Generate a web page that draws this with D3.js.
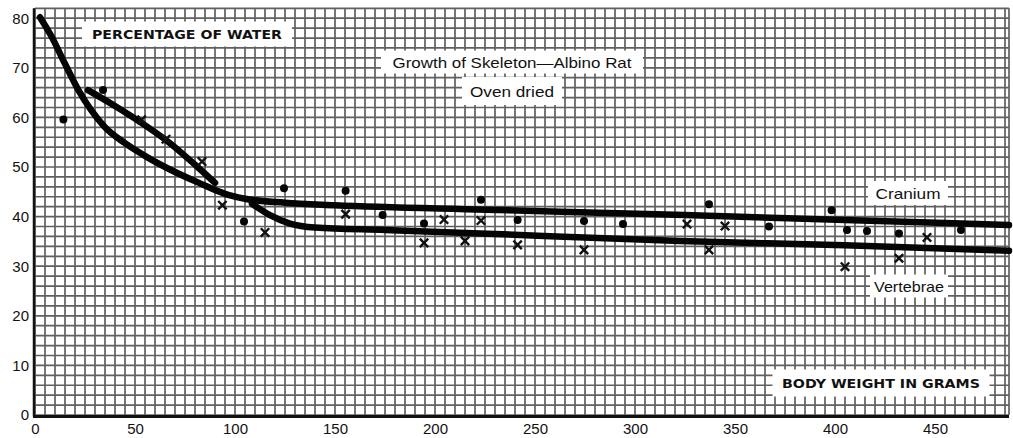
<!DOCTYPE html>
<html>
<head>
<meta charset="utf-8">
<script src="https://cdn.jsdelivr.net/npm/d3@7"></script>
<style>
  html, body { margin: 0; padding: 0; background: #ffffff; }
  svg { display: block; }
</style>
</head>
<body>
<svg id="chart" width="1013" height="438"></svg>
<script>
// ---- Data ----
const xTicks = [0, 50, 100, 150, 200, 250, 300, 350, 400, 450];
const yTicks = [0, 10, 20, 30, 40, 50, 60, 70, 80];

// Cranium fitted curve
const craniumCurveG = [2.5, 8, 15, 22, 28, 35, 45, 56, 68, 82, 95, 105, 125, 150, 225, 325, 405, 487];
const craniumCurveV = [80.2, 76.5, 70.8, 65.3, 61.5, 58.0, 54.8, 52.0, 49.4, 46.8, 44.6, 43.6, 42.8, 42.3, 41.4, 40.3, 39.3, 38.3];

// Vertebrae fitted curve: early segment and later segment
const vertEarlyG = [26.5, 40, 52.5, 67.5, 81, 90];
const vertEarlyV = [65.5, 62.3, 59.1, 54.8, 50.1, 46.8];
const vertLateG = [108.5, 117.5, 127.5, 140, 175, 222.5, 322.5, 405, 487];
const vertLateV = [42.6, 40.3, 38.6, 37.8, 37.3, 36.6, 35.1, 34.2, 33.1];

// Observations: cranium (dots)
const craniumDotG = [14.2, 34, 104.5, 124.5, 155.3, 173.8, 194.5, 223, 241.3, 274.5, 294, 337, 367, 398.3, 406, 416, 432, 463];
const craniumDotV = [59.6, 65.5, 39.0, 45.7, 45.2, 40.3, 38.6, 43.4, 39.3, 39.1, 38.5, 42.5, 38.0, 41.3, 37.3, 37.1, 36.6, 37.3];

// Observations: vertebrae (crosses)
const vertCrossG = [53.3, 65.5, 83.5, 93.7, 115, 155.3, 194.5, 204.5, 215, 223, 241.3, 274.5, 326, 337, 345, 405, 432, 446];
const vertCrossV = [59.5, 55.6, 51.1, 42.3, 36.8, 40.5, 34.7, 39.4, 35.1, 39.2, 34.3, 33.3, 38.5, 33.3, 38.1, 29.9, 31.6, 35.8];

// Annotation texts
const titleText = "Growth of Skeleton\u2014Albino Rat";
const subtitleText = "Oven dried";
const yAxisText = "PERCENTAGE OF WATER";
const xAxisText = "BODY WEIGHT IN GRAMS";
const craniumText = "Cranium";
const vertebraeText = "Vertebrae";

// ---- Layout ----
const xMax = 487, yMax = 82;
const x = d3.scaleLinear().domain([0, xMax]).range([35, 1009]);
const y = d3.scaleLinear().domain([0, yMax]).range([415, 415 - yMax * 4.96]);

const svg = d3.select("#chart");
svg.append("rect").attr("width", 1013).attr("height", 438).attr("fill", "#ffffff");

// Grid
const grid = svg.append("g").attr("stroke", "#606060").attr("stroke-width", 1.7);
const vLines = d3.range(0, xMax, 5).concat([xMax]);
grid.selectAll("line.v").data(vLines).join("line")
  .attr("x1", d => x(d)).attr("x2", d => x(d))
  .attr("y1", y(0)).attr("y2", y(yMax));
const hLines = d3.range(0, yMax + 0.001, 2);
grid.selectAll("line.h").data(hLines).join("line")
  .attr("y1", d => y(d)).attr("y2", d => y(d))
  .attr("x1", x(0)).attr("x2", x(xMax));

// Axes (thick left and bottom)
svg.append("line").attr("x1", x(0) - 1).attr("x2", x(0) - 1)
  .attr("y1", y(yMax)).attr("y2", y(0) + 1.5)
  .attr("stroke", "#111").attr("stroke-width", 2.5);
svg.append("line").attr("x1", x(0) - 2).attr("x2", x(xMax))
  .attr("y1", y(0) + 1.5).attr("y2", y(0) + 1.5)
  .attr("stroke", "#111").attr("stroke-width", 3);

// Tick labels
const tickFont = "'Liberation Sans', Arial, sans-serif";
const xAxis = d3.axisBottom(x).tickValues(xTicks).tickSize(0).tickPadding(5);
const gx = svg.append("g").attr("transform", `translate(0,${y(0) + 3})`).call(xAxis);
gx.select(".domain").remove();
gx.selectAll("text").attr("font-family", tickFont).attr("font-size", 15).attr("fill", "#111");

const yAxis = d3.axisLeft(y).tickValues(yTicks).tickSize(0).tickPadding(6);
const gy = svg.append("g").attr("transform", `translate(${x(0)},0)`).call(yAxis);
gy.select(".domain").remove();
gy.selectAll("text").attr("font-family", tickFont).attr("font-size", 15).attr("fill", "#111");

// Curves
const line = d3.line().x(d => x(d[0])).y(d => y(d[1])).curve(d3.curveMonotoneX);
const zip = (a, b) => a.map((v, i) => [v, b[i]]);
[
  zip(craniumCurveG, craniumCurveV),
  zip(vertEarlyG, vertEarlyV),
  zip(vertLateG, vertLateV)
].forEach(pts => {
  svg.append("path").attr("d", line(pts))
    .attr("fill", "none").attr("stroke", "#050505")
    .attr("stroke-width", 6.5).attr("stroke-linecap", "round").attr("stroke-linejoin", "round");
});

// Markers
svg.append("g").selectAll("circle").data(zip(craniumDotG, craniumDotV)).join("circle")
  .attr("cx", d => x(d[0])).attr("cy", d => y(d[1])).attr("r", 4).attr("fill", "#050505");

const cs = 4.2;
svg.append("g").selectAll("path").data(zip(vertCrossG, vertCrossV)).join("path")
  .attr("d", d => {
    const cx = x(d[0]), cy = y(d[1]);
    return `M${cx - cs},${cy - cs}L${cx + cs},${cy + cs}M${cx - cs},${cy + cs}L${cx + cs},${cy - cs}`;
  })
  .attr("stroke", "#111").attr("stroke-width", 2.4).attr("fill", "none");

// Labelled boxes
function boxLabel(text, cx, cy, w, h, opts) {
  const g = svg.append("g");
  g.append("rect").attr("x", cx - w / 2).attr("y", cy - h / 2).attr("width", w).attr("height", h).attr("fill", "#ffffff");
  const t = g.append("text").attr("x", cx).attr("y", cy).attr("text-anchor", "middle")
    .attr("dominant-baseline", "central")
    .attr("font-family", opts.family || tickFont)
    .attr("font-size", opts.size).attr("font-weight", opts.weight || "normal")
    .attr("fill", "#111").text(text);
  if (opts.length) t.attr("textLength", opts.length).attr("lengthAdjust", "spacingAndGlyphs");
}
boxLabel(yAxisText, 187, 34, 210, 25, { size: 13, weight: "bold", length: 190, family: "'DejaVu Sans', sans-serif" });
boxLabel(titleText, 512, 62, 262, 23, { size: 15, length: 239 });
boxLabel(subtitleText, 512, 91, 100, 28, { size: 15, length: 84 });
boxLabel(craniumText, 908, 193, 80, 24, { size: 15, length: 65 });
boxLabel(vertebraeText, 909, 286, 78, 23, { size: 15, length: 70 });
boxLabel(xAxisText, 881, 383, 217, 27, { size: 13, weight: "bold", length: 198, family: "'DejaVu Sans', sans-serif" });
</script>
</body>
</html>
